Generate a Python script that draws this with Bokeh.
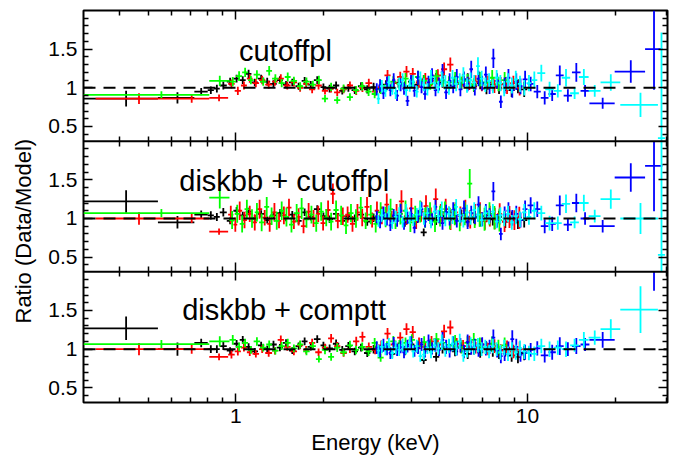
import numpy as np
from bokeh.plotting import figure
from bokeh.models import (ColumnDataSource, Range1d, FixedTicker, LinearAxis, LogAxis,
                          Span, Label, CustomJSTickFormatter)
from bokeh.embed import file_html
from bokeh.resources import INLINE

nan = float("nan")

# ---------------------------------------------------------------------------
# Energy bin edges (keV) for each data set
# ---------------------------------------------------------------------------
blk_edges = [0.30, 0.54, 0.72, 0.80, 0.84, 0.88, 0.93, 0.98, 1.03, 1.08, 1.13, 1.19, 1.25, 1.31,
             1.38, 1.45, 1.52, 1.60, 1.68, 1.76, 1.85, 1.95, 2.04, 2.15, 2.26, 2.37, 2.49, 2.62,
             2.75, 2.89, 3.04, 3.19, 3.35, 3.52, 3.70, 3.89, 4.09, 4.30, 4.51, 4.74, 4.98, 5.24,
             5.50, 5.78, 6.08, 6.39, 6.71, 7.05, 7.41, 7.79, 8.18, 8.60, 9.04, 9.50, 9.98]
red_edges = [0.33, 0.60, 0.81, 0.94, 0.99, 1.04, 1.09, 1.14, 1.20, 1.26, 1.33, 1.39, 1.46, 1.54,
             1.62, 1.70, 1.78, 1.87, 1.97, 2.07, 2.17, 2.28, 2.40, 2.52, 2.65, 2.78, 2.93, 3.07,
             3.23, 3.39, 3.57, 3.75, 3.94, 4.14, 4.35, 4.57, 4.80, 5.05, 5.30, 5.57, 5.86, 6.16,
             6.47, 6.80, 7.14, 7.51, 7.89, 8.29, 8.72, 9.16, 9.63]
red_edges_fine = [0.33, 0.60, 0.81, 0.94, 0.98, 1.01, 1.05, 1.09, 1.14, 1.18, 1.23, 1.28, 1.33,
                  1.38, 1.43, 1.49, 1.55, 1.61, 1.67, 1.74, 1.81, 1.88, 1.95, 2.03, 2.11, 2.19,
                  2.28, 2.37, 2.46, 2.56, 2.66, 2.76, 2.87, 2.99, 3.10, 3.23, 3.35, 3.49, 3.62,
                  3.77, 3.92, 4.07, 4.23, 4.40, 4.57, 4.75, 4.94, 5.14, 5.34, 5.55, 5.77, 6.00,
                  6.24, 6.48, 6.74, 7.00, 7.28, 7.57, 7.87, 8.18, 8.50, 8.84, 9.19, 9.55]
grn_edges = [0.30, 0.81, 0.95, 1.00, 1.05, 1.10, 1.15, 1.21, 1.27, 1.33, 1.40, 1.47, 1.54, 1.62,
             1.70, 1.79, 1.88, 1.97, 2.07, 2.17, 2.28, 2.40, 2.52, 2.64, 2.78, 2.92, 3.06, 3.21,
             3.38, 3.55, 3.72, 3.91, 4.11, 4.31, 4.53, 4.75, 4.99, 5.24, 5.51, 5.78, 6.07, 6.38,
             6.70, 7.03, 7.38, 7.75, 8.14, 8.55]
grn_edges_fine = [0.30, 0.81, 0.95, 0.99, 1.03, 1.07, 1.11, 1.16, 1.20, 1.25, 1.30, 1.35, 1.41,
                  1.46, 1.52, 1.58, 1.65, 1.71, 1.78, 1.85, 1.92, 2.00, 2.08, 2.16, 2.25, 2.34,
                  2.43, 2.53, 2.63, 2.73, 2.84, 2.96, 3.07, 3.20, 3.32, 3.46, 3.59, 3.74, 3.89,
                  4.04, 4.20, 4.37, 4.54, 4.72, 4.91, 5.11, 5.31, 5.52, 5.74, 5.97, 6.21, 6.46,
                  6.72, 6.98, 7.26, 7.55, 7.85, 8.17]
blu_edges = [3.00, 3.08, 3.16, 3.25, 3.34, 3.43, 3.52, 3.62, 3.72, 3.82, 3.93, 4.04, 4.15, 4.27,
             4.39, 4.51, 4.64, 4.77, 4.90, 5.04, 5.18, 5.33, 5.48, 5.64, 5.80, 5.97, 6.14, 6.32,
             6.50, 6.69, 6.89, 7.09, 7.30, 7.52, 7.75, 7.98, 8.22, 8.47, 8.73, 9.00, 9.30, 9.62,
             10.0, 10.5, 11.1, 11.8, 12.5, 13.3, 14.2, 15.2, 16.3, 19.9, 25.3, 29.0]
cyn_edges = [3.04, 3.12, 3.21, 3.30, 3.39, 3.48, 3.58, 3.68, 3.78, 3.89, 4.00, 4.11, 4.23, 4.35,
             4.47, 4.60, 4.73, 4.87, 5.01, 5.15, 5.30, 5.45, 5.61, 5.77, 5.94, 6.11, 6.29, 6.47,
             6.66, 6.86, 7.06, 7.27, 7.49, 7.72, 7.95, 8.19, 8.44, 8.70, 8.97, 9.26, 9.58, 9.92,
             10.3, 10.8, 11.5, 12.3, 13.1, 14.0, 15.0, 16.2, 17.8, 20.8, 28.0, 29.6]

# ---------------------------------------------------------------------------
# Fractional 1-sigma errors of each bin
# ---------------------------------------------------------------------------
blk_err = [0.12, 0.085, 0.05, 0.05, 0.05, 0.05, 0.045, 0.045, 0.045, 0.045,
           0.045, 0.045, 0.045, 0.045, 0.045, 0.045, 0.045, 0.045, 0.045, 0.045,
           0.045, 0.045, 0.05, 0.05, 0.05, 0.05, 0.05, 0.05, 0.055, 0.055,
           0.055, 0.055, 0.055, 0.055, 0.06, 0.06, 0.06, 0.06, 0.06, 0.065,
           0.065, 0.065, 0.065, 0.07, 0.07, 0.07, 0.075, 0.075, 0.08, 0.08,
           0.085, 0.09, 0.09, 0.10]
red_err = [0.08, 0.06, 0.05, 0.055, 0.055, 0.05, 0.05, 0.05, 0.05, 0.05,
           0.05, 0.05, 0.05, 0.05, 0.05, 0.05, 0.05, 0.05, 0.05, 0.05,
           0.05, 0.05, 0.05, 0.055, 0.055, 0.055, 0.055, 0.06, 0.06, 0.06,
           0.06, 0.06, 0.065, 0.065, 0.065, 0.065, 0.07, 0.07, 0.07, 0.07,
           0.075, 0.075, 0.075, 0.08, 0.08, 0.085, 0.085, 0.09, 0.09, 0.10]
red_err_fine = [0.08, 0.06, 0.05,
                0.11, 0.10, 0.11, 0.11, 0.10, 0.11, 0.11, 0.10, 0.11, 0.11,
                0.10, 0.11, 0.10, 0.10, 0.11, 0.10, 0.10, 0.11, 0.10, 0.10,
                0.11, 0.10, 0.10, 0.11, 0.10, 0.11, 0.10, 0.11, 0.11, 0.10,
                0.11, 0.11, 0.12, 0.11, 0.11, 0.12, 0.11, 0.12, 0.11, 0.12,
                0.12, 0.12, 0.11, 0.12, 0.12, 0.13, 0.12, 0.12, 0.13, 0.12,
                0.13, 0.13, 0.12, 0.13, 0.14, 0.13, 0.14, 0.14, 0.13, 0.14]
grn_err = [0.05, 0.06, 0.055, 0.055, 0.05, 0.05, 0.05, 0.05, 0.05, 0.05,
           0.05, 0.05, 0.05, 0.05, 0.05, 0.05, 0.05, 0.055, 0.055, 0.055,
           0.055, 0.055, 0.055, 0.055, 0.06, 0.06, 0.06, 0.06, 0.065, 0.065,
           0.065, 0.065, 0.07, 0.07, 0.07, 0.07, 0.075, 0.075, 0.075, 0.08,
           0.08, 0.08, 0.085, 0.085, 0.09, 0.09, 0.095]
grn_err_fine = [0.05, 0.11,
                0.12, 0.11, 0.12, 0.11, 0.12, 0.11, 0.12, 0.11, 0.11, 0.12,
                0.11, 0.12, 0.11, 0.11, 0.12, 0.11, 0.11, 0.12, 0.11, 0.11,
                0.12, 0.11, 0.12, 0.12, 0.11, 0.12, 0.12, 0.11, 0.12, 0.12,
                0.12, 0.13, 0.12, 0.12, 0.13, 0.12, 0.13, 0.12, 0.13, 0.13,
                0.13, 0.14, 0.13, 0.13, 0.14, 0.13, 0.14, 0.14, 0.13, 0.14,
                0.14, 0.15, 0.14, 0.15, 0.15]
blu_err = [0.08, 0.08, 0.08, 0.08, 0.08, 0.08, 0.08, 0.08, 0.08, 0.08,
           0.08, 0.08, 0.08, 0.08, 0.08, 0.08, 0.08, 0.08, 0.08, 0.09,
           0.09, 0.09, 0.09, 0.09, 0.09, 0.09, 0.09, 0.09, 0.09, 0.09,
           0.09, 0.09, 0.09, 0.09, 0.09, 0.10, 0.10, 0.10, 0.10, 0.10,
           0.10, 0.10, 0.09, 0.09, 0.10, 0.10, 0.11, 0.09, 0.10, 0.08,
           0.09, 0.12, 0.35]
cyn_err = [0.08, 0.08, 0.08, 0.08, 0.08, 0.08, 0.08, 0.08, 0.08, 0.08,
           0.08, 0.08, 0.08, 0.08, 0.08, 0.08, 0.08, 0.08, 0.09, 0.09,
           0.09, 0.09, 0.09, 0.09, 0.09, 0.09, 0.09, 0.09, 0.09, 0.09,
           0.09, 0.09, 0.09, 0.09, 0.10, 0.10, 0.10, 0.10, 0.10, 0.10,
           0.10, 0.10, 0.10, 0.09, 0.10, 0.09, 0.10, 0.08, 0.09, 0.08,
           0.10, 0.20, 3.9]

# ---------------------------------------------------------------------------
# Data/model ratios, model 1: cutoffpl
# ---------------------------------------------------------------------------
cpl_blk = [0.86, 0.87, 0.95, 0.97, 0.99, 1.03, 1.08, 1.12, 1.10, 1.18,
           1.07, 1.12, 1.08, 1.05, 1.10, 1.04, 1.07, 1.02, 1.09, 1.04,
           1.10, 1.01, 0.99, 1.03, 0.96, 1.00, 0.97, 1.02, 0.98, 1.01,
           0.99, 1.04, 1.00, 1.06, 1.02, 1.08, 1.04, 1.10, 1.05, 1.12,
           1.07, 1.03, 1.09, 1.05, 1.11, 1.02, 1.06, 0.99, 1.04, 1.00,
           1.05, 0.97, 1.02, 0.98]
cpl_red = [0.86, 0.86, 0.87, 1.05, 0.96, 1.03, 1.12, 1.06, 1.10, 1.04,
           1.08, 1.12, 1.03, 1.07, 1.00, 1.05, 0.98, 1.03, 0.96, 0.99,
           0.94, 0.98, 1.03, 0.96, 1.00, 1.06, 0.95, 1.01, 1.16, 1.06,
           1.14, 1.21, 1.18, 1.07, 1.12, 1.09, 1.16, 1.24, 1.30, 1.07,
           1.10, 1.05, 1.08, 1.04, 1.07, 1.02, 1.05, 1.01, 1.06, 1.00]
cpl_grn = [0.91, 1.09, 1.08, 1.15, 1.20, 1.10, 1.17, 1.08, 1.22, 1.12,
           1.06, 1.14, 1.09, 1.02, 1.08, 1.04, 1.10, 0.86, 1.01, 0.84,
           0.99, 0.88, 0.97, 1.02, 0.95, 0.92, 0.98, 1.03, 1.08, 1.05,
           1.12, 1.07, 1.14, 1.09, 1.05, 1.15, 1.10, 1.07, 1.12, 1.06,
           1.09, 1.04, 1.11, 1.07, 1.13, 1.05, 1.10]
cpl_blu = [0.98, 1.03, 0.93, 1.06, 0.97, 1.10, 0.90, 1.04, 0.99, 0.83,
           1.08, 0.96, 1.13, 1.01, 0.92, 1.07, 1.16, 0.97, 1.05, 1.20,
           0.94, 1.09, 1.02, 1.14, 0.98, 1.11, 1.05, 1.24, 0.99, 1.12,
           1.06, 1.17, 1.01, 1.38, 1.09, 0.82, 1.03, 1.13, 0.97, 1.08,
           1.02, 1.11, 1.05, 0.95, 0.87, 0.92, 1.16, 0.90, 1.20, 0.96,
           0.80, 1.21, 1.50]
cpl_cyn = [0.86, 1.02, 0.96, 1.07, 0.99, 0.93, 1.05, 1.10, 0.97, 1.03,
           1.08, 0.95, 1.12, 1.04, 0.98, 1.14, 1.06, 1.01, 1.11, 1.07,
           1.00, 1.13, 1.05, 1.09, 1.16, 1.03, 1.10, 1.07, 1.28, 1.12,
           1.04, 1.09, 1.02, 1.13, 1.06, 0.99, 1.08, 1.03, 1.11, 1.05,
           1.00, 1.06, 1.10, 1.19, 0.98, 0.96, 1.13, 0.93, 1.14, 0.96,
           1.07, 0.78, 0.35]

# ---------------------------------------------------------------------------
# Model 2: diskbb + cutoffpl
# ---------------------------------------------------------------------------
dcp_blk = [1.22, 0.95, 1.05, 1.04, 1.02, 1.08, 0.97, 1.10, 1.04, 1.09,
           1.00, 1.06, 0.98, 1.04, 1.07, 1.01, 1.05, 0.97, 1.08, 1.02,
           1.12, 1.03, 0.99, 1.06, 0.97, 1.03, 1.00, 1.05, 0.96, 1.01,
           0.98, 1.04, 0.99, 1.02, 0.95, 1.03, 1.00, 0.82, 1.05, 0.98,
           1.03, 1.08, 0.99, 1.04, 0.96, 1.01, 0.97, 1.03, 0.99, 1.02,
           0.96, 1.00, 0.95, 0.98]
dcp_red = [1.00, 1.00, 0.83,
           1.05, 0.92, 1.10, 0.98, 1.06, 0.95, 1.12, 1.01, 0.93, 1.08,
           0.97, 1.04, 1.14, 0.96, 1.02, 0.90, 1.09, 1.00, 1.06, 0.94,
           1.11, 1.32, 0.97, 1.03, 1.05, 0.93, 1.08, 1.01, 1.15, 0.98,
           1.10, 1.04, 1.18, 0.99, 1.07, 1.22, 1.03, 1.13, 0.97, 1.09,
           1.16, 1.02, 1.25, 1.06, 1.12, 0.98, 1.08, 1.03, 1.10, 0.99,
           1.05, 1.07, 0.97, 1.03, 1.00, 1.06, 0.96, 1.02, 0.98, 1.01]
dcp_grn = [1.07, 1.27,
           0.98, 1.06, 0.93, 1.12, 1.00, 1.08, 0.95, 1.15, 1.03, 0.97,
           1.10, 1.02, 0.92, 1.07, 1.13, 0.99, 1.05, 0.94, 1.09, 1.01,
           0.96, 1.11, 1.04, 0.91, 1.07, 1.00, 1.14, 0.97, 1.05, 0.93,
           1.08, 1.02, 1.12, 0.98, 1.06, 1.10, 0.95, 1.04, 1.09, 1.01,
           1.07, 0.96, 1.03, 1.08, 1.00, 1.05, 0.97, 1.06, 1.45, 1.02,
           1.04, 0.99, 1.06, 1.01, 0.98]
dcp_blu = [1.02, 0.95, 1.07, 0.99, 0.91, 1.04, 0.97, 1.10, 0.93, 1.01,
           1.06, 0.88, 1.03, 1.12, 0.96, 1.05, 0.99, 1.15, 1.02, 0.94,
           1.08, 1.00, 1.11, 0.97, 1.04, 1.13, 0.95, 1.07, 1.02, 1.18,
           0.99, 1.09, 1.04, 1.35, 0.97, 0.80, 1.05, 1.10, 1.01, 1.06,
           0.98, 1.12, 1.17, 1.12, 0.90, 0.93, 1.17, 0.92, 1.20, 1.00,
           0.90, 1.53, 1.68]
dcp_cyn = [0.97, 1.04, 0.99, 1.08, 0.94, 1.02, 1.06, 0.96, 1.10, 1.01,
           0.98, 1.05, 1.13, 1.00, 1.07, 0.95, 1.09, 1.03, 1.12, 0.99,
           1.06, 1.02, 1.15, 1.04, 0.97, 1.08, 1.01, 1.11, 1.05, 0.98,
           1.07, 1.02, 1.09, 0.96, 1.04, 1.00, 1.06, 0.95, 1.03, 0.99,
           1.08, 1.02, 1.10, 1.07, 0.94, 0.94, 1.19, 0.95, 1.20, 1.03,
           1.25, 1.00, 0.53]

# ---------------------------------------------------------------------------
# Model 3: diskbb + comptt
# ---------------------------------------------------------------------------
dct_blk = [1.27, 1.00, 1.08, 1.00, 1.00, 1.04, 0.98, 1.07, 1.12, 1.03,
           0.97, 1.05, 1.00, 1.06, 1.02, 1.08, 0.98, 1.04, 1.10, 1.03,
           1.13, 1.05, 1.01, 1.07, 0.99, 1.04, 0.97, 1.02, 0.95, 1.00,
           0.97, 1.02, 0.94, 1.03, 0.98, 1.06, 1.01, 0.86, 1.03, 0.90,
           1.01, 1.05, 0.97, 1.02, 0.94, 1.00, 0.96, 1.02, 0.98, 0.95,
           0.99, 0.92, 0.90, 0.95]
dct_red = [1.00, 1.00, 0.90, 0.93, 0.97, 1.02, 0.96, 0.94, 1.00, 0.95,
           0.98, 1.12, 1.03, 0.97, 1.05, 0.99, 1.08, 0.96, 1.02, 1.14,
           1.04, 0.95, 1.00, 1.10, 1.16, 1.03, 0.99, 1.05, 1.20, 1.06,
           1.15, 1.26, 1.22, 1.08, 1.03, 1.10, 1.06, 1.23, 1.28, 1.07,
           1.04, 1.09, 1.02, 1.06, 1.00, 1.04, 0.98, 1.02, 0.97, 1.00]
dct_grn = [1.065, 1.10, 1.12, 1.03, 1.08, 0.99, 1.10, 1.02, 1.06, 0.98,
           1.04, 1.08, 1.01, 1.06, 0.97, 1.04, 0.87, 0.99, 0.90, 1.02,
           0.96, 1.05, 0.99, 1.03, 0.97, 1.08, 0.89, 1.04, 1.10, 1.05,
           1.08, 1.12, 1.04, 1.09, 1.06, 1.13, 1.08, 1.05, 1.10, 1.03,
           1.08, 1.12, 1.06, 1.02, 1.07, 1.03, 1.05]
dct_blu = [1.02, 0.97, 1.05, 1.00, 0.95, 1.07, 0.99, 1.03, 0.96, 1.04,
           1.08, 0.98, 1.02, 1.06, 0.97, 1.10, 1.01, 1.05, 0.99, 1.12,
           1.03, 0.98, 1.07, 1.01, 1.05, 0.97, 1.09, 1.02, 1.04, 0.99,
           1.06, 1.01, 1.03, 1.15, 0.98, 0.91, 0.94, 1.00, 1.13, 1.03,
           0.93, 0.96, 0.99, 1.01, 0.92, 0.96, 1.04, 1.00, 1.04, 1.06,
           1.12, nan, 2.7]
dct_cyn = [0.98, 1.03, 1.00, 1.06, 0.95, 1.02, 0.99, 1.05, 1.01, 1.08,
           0.97, 1.04, 0.91, 0.93, 1.02, 0.96, 1.05, 1.01, 1.09, 0.99,
           1.04, 1.07, 1.01, 1.10, 0.92, 0.98, 1.06, 1.02, 1.05, 1.00,
           1.03, 0.97, 1.04, 1.00, 0.96, 1.02, 0.94, 0.99, 0.96, 1.01,
           0.97, 0.95, 0.94, 1.04, 1.00, 1.02, 1.00, 1.05, 1.12, 1.15,
           1.26, 1.51, nan]

panel_titles = ["cutoffpl", "diskbb + cutoffpl", "diskbb + comptt"]

COLORS = {"blk": "#000000", "red": "#ff0000", "grn": "#00ff00",
          "blu": "#0000ff", "cyn": "#00ffff"}

# each panel: list of (edges, ratios, fractional errors, colour key)
panels = [
    [(blk_edges, cpl_blk, blk_err, "blk"), (red_edges, cpl_red, red_err, "red"),
     (grn_edges, cpl_grn, grn_err, "grn"), (blu_edges, cpl_blu, blu_err, "blu"),
     (cyn_edges, cpl_cyn, cyn_err, "cyn")],
    [(blk_edges, dcp_blk, blk_err, "blk"), (red_edges_fine, dcp_red, red_err_fine, "red"),
     (grn_edges_fine, dcp_grn, grn_err_fine, "grn"), (blu_edges, dcp_blu, blu_err, "blu"),
     (cyn_edges, dcp_cyn, cyn_err, "cyn")],
    [(blk_edges, dct_blk, blk_err, "blk"), (red_edges, dct_red, red_err, "red"),
     (grn_edges, dct_grn, grn_err, "grn"), (blu_edges, dct_blu, blu_err, "blu"),
     (cyn_edges, dct_cyn, cyn_err, "cyn")],
]

# ---------------------------------------------------------------------------
# Layout: three stacked ratio panels sharing one log energy axis
# ---------------------------------------------------------------------------
FONT = "Liberation Sans"
LOW, HIGH = 0.31, 2.0          # ratio range shown in every panel
SPAN = HIGH - LOW
offsets = [2 * SPAN - LOW, SPAN - LOW, -LOW]   # top, middle, bottom panel
LW = 1.8

p = figure(width=678, height=460, x_axis_type="log",
           x_range=Range1d(0.3, 30.2), y_range=Range1d(0, 3 * SPAN),
           min_border_left=81, min_border_right=11, min_border_top=10, min_border_bottom=58,
           title="Ratio (Data/Model)", title_location="left",
           toolbar_location=None, output_backend="svg")
p.grid.visible = False
p.outline_line_color = "black"
p.outline_line_width = 2
p.outline_line_alpha = 1.0
p.background_fill_color = "white"
p.border_fill_color = "white"

# vertical axis title, drawn as the plot title on the left side
p.title.align = "left"
p.title.offset = 79
p.title.vertical_align = "middle"
p.title.standoff = 18
p.title.text_font = FONT
p.title.text_font_size = "22px"
p.title.text_font_style = "normal"
p.title.text_color = "black"


def add_spectrum(edges, ratio, frac_err, color, off):
    if len(ratio) != len(edges) - 1 or len(frac_err) != len(edges) - 1:
        raise ValueError("length mismatch: %d edges, %d ratios, %d errors"
                         % (len(edges), len(ratio), len(frac_err)))
    lo = np.asarray(edges[:-1], float)
    hi = np.asarray(edges[1:], float)
    r = np.asarray(ratio, float)
    e = np.asarray(frac_err, float) * r
    mid = 0.5 * (lo + hi)
    inside = (r >= LOW) & (r <= HIGH)
    yh = np.where(inside, r, np.nan) + off
    y0 = np.clip(r - e, LOW, HIGH)
    y1 = np.clip(r + e, LOW, HIGH)
    ok = y1 > y0
    y0 = np.where(ok, y0, np.nan) + off
    y1 = np.where(ok, y1, np.nan) + off
    src = ColumnDataSource(dict(lo=lo, hi=hi, mid=mid, yh=yh, y0=y0, y1=y1))
    p.segment(x0="lo", y0="yh", x1="hi", y1="yh", source=src,
              line_color=color, line_width=LW)
    p.segment(x0="mid", y0="y0", x1="mid", y1="y1", source=src,
              line_color=color, line_width=LW)


for off, series in zip(offsets, panels):
    for edges, ratio, err, key in series:
        add_spectrum(edges, ratio, err, COLORS[key], off)

# unity reference line and panel separators
for off in offsets:
    p.add_layout(Span(location=1.0 + off, dimension="width", line_color="black",
                      line_width=2, line_dash="12 8"))
for loc in (SPAN, 2 * SPAN):
    p.add_layout(Span(location=loc, dimension="width", line_color="black", line_width=2))

# ---------------------------------------------------------------------------
# Ticks and axes
# ---------------------------------------------------------------------------
x_ticker = FixedTicker(ticks=[1, 10],
                       minor_ticks=[0.4, 0.5, 0.6, 0.7, 0.8, 0.9,
                                    2, 3, 4, 5, 6, 7, 8, 9, 20, 30])
y_major = [v + o for o in offsets for v in (0.5, 1.0, 1.5)]
y_minor = [v + o for o in offsets for v in (0.4, 0.6, 0.7, 0.8, 0.9, 1.1, 1.2, 1.3, 1.4,
                                             1.6, 1.7, 1.8, 1.9)]
y_ticker = FixedTicker(ticks=y_major, minor_ticks=y_minor)

ratio_fmt = CustomJSTickFormatter(args=dict(span=SPAN, low=LOW), code="""
    let r = tick;
    while (r > span + 1e-6) { r -= span; }
    const v = Math.round((r + low) * 10) / 10;
    return v.toString();
""")
energy_fmt = CustomJSTickFormatter(code="return tick.toString();")


def style_ticks(ax, both=False):
    ax.major_tick_in = 9
    ax.minor_tick_in = 5
    ax.major_tick_out = 9 if both else 0
    ax.minor_tick_out = 5 if both else 0
    ax.major_tick_line_width = 1.5
    ax.minor_tick_line_width = 1.5
    ax.major_tick_line_color = "black"
    ax.minor_tick_line_color = "black"
    ax.axis_line_color = None


def hide_labels(ax):
    ax.major_label_text_font_size = "1px"
    ax.major_label_text_alpha = 0
    ax.major_label_standoff = 0


left = p.left[0]
left.ticker = y_ticker
left.formatter = ratio_fmt
style_ticks(left)
left.major_label_text_font = FONT
left.major_label_text_font_size = "21px"
left.major_label_text_color = "black"
left.major_label_standoff = 6

bottom = p.below[0]
bottom.ticker = x_ticker
bottom.formatter = energy_fmt
style_ticks(bottom)
bottom.major_label_text_font = FONT
bottom.major_label_text_font_size = "21px"
bottom.major_label_text_color = "black"
bottom.major_label_standoff = 6
bottom.axis_label = "Energy (keV)"
bottom.axis_label_text_font = FONT
bottom.axis_label_text_font_size = "22px"
bottom.axis_label_text_font_style = "normal"
bottom.axis_label_text_color = "black"
bottom.axis_label_standoff = 4

right = LinearAxis(ticker=y_ticker)
style_ticks(right)
hide_labels(right)
p.add_layout(right, "right")

top = LogAxis(ticker=x_ticker)
style_ticks(top)
hide_labels(top)
p.add_layout(top, "above")

# tick marks on both sides of the internal panel borders
for loc in (SPAN, 2 * SPAN):
    inner = LogAxis(ticker=x_ticker, fixed_location=loc)
    style_ticks(inner, both=True)
    hide_labels(inner)
    p.add_layout(inner, "below")

# ---------------------------------------------------------------------------
# Panel captions
# ---------------------------------------------------------------------------
title_pos = [(1.024, 1.477), (0.639, 1.486), (0.654, 1.50)]
for (tx, ty), txt, off in zip(title_pos, panel_titles, offsets):
    p.add_layout(Label(x=tx, y=ty + off, text=txt, text_font=FONT, text_font_size="29px",
                       text_color="black", text_align="left", text_baseline="alphabetic"))

open("out.html", "w").write(file_html(p, INLINE))
